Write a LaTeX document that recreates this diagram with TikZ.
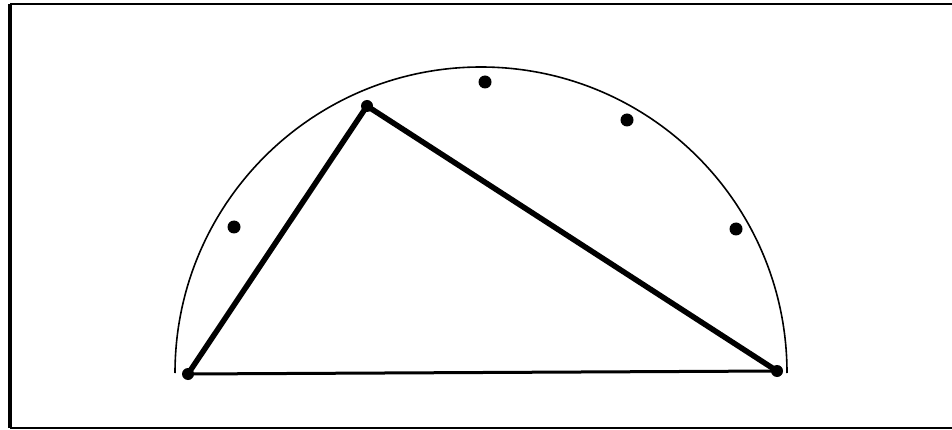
\documentclass[tikz,border=0pt]{standalone}
\begin{document}
\begin{tikzpicture}[x=1pt,y=-1pt,
  dotmark/.style={circle,fill=black,inner sep=0pt,minimum size=13pt},
  vertex/.style={circle,fill=black,inner sep=0pt,minimum size=12pt},
  sideline/.style={line width=5.5pt,line join=round},
  baseline/.style={line width=3pt},
  rim/.style={line width=1.6pt}]
\useasboundingbox (0,0) rectangle (952,430);
% frame
\coordinate (f1) at (952,4);
\coordinate (f2) at (10,4);
\coordinate (f3) at (10,428);
\coordinate (f4) at (952,428);
\draw[line width=2.2pt] (f1) -- (f2);
\draw[line width=3.5pt] (f2) -- (f3);
\draw[line width=2.2pt] (f3) -- (f4);
% semicircle
\coordinate (L) at (175,373);
\draw[rim] (L) arc[start angle=180,end angle=360,radius=306];
% triangle
\node[vertex] (A) at (188,374) {};
\node[vertex] (B) at (367,106) {};
\node[vertex] (C) at (777,371) {};
\draw[baseline] (A.center) -- (C.center);
\draw[sideline] (A.center) -- (B.center) -- (C.center);
% dots
\node[dotmark] (d1) at (234,227) {};
\node[dotmark] (d2) at (485,82) {};
\node[dotmark] (d3) at (627,120) {};
\node[dotmark] (d4) at (736,229) {};
\end{tikzpicture}
\end{document}
